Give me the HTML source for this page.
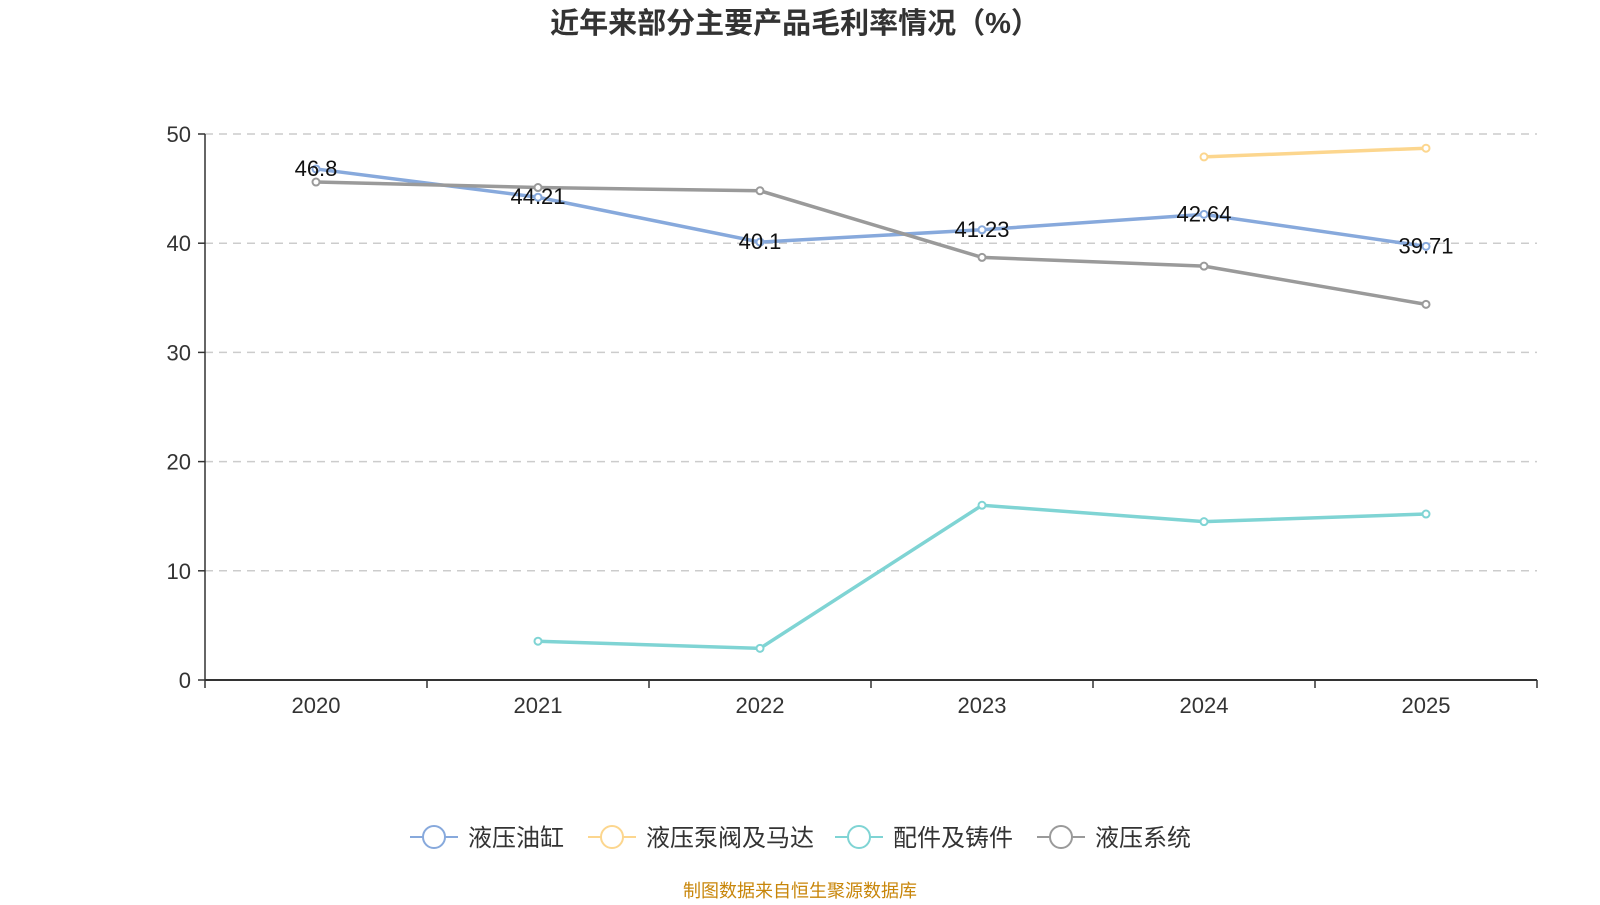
<!DOCTYPE html>
<html><head><meta charset="utf-8"><style>
body{margin:0;background:#fff;font-family:"Liberation Sans","Noto Sans CJK SC",sans-serif;}
svg text{font-family:"Liberation Sans","Noto Sans CJK SC",sans-serif;}
</style></head><body>
<svg id="c" width="1600" height="900" xmlns="http://www.w3.org/2000/svg">
<text x="795" y="33" text-anchor="middle" font-size="29" font-weight="bold" fill="#333">近年来部分主要产品毛利率情况（%）</text>
<g id="grid"></g><g id="axes"></g><g id="series"></g><g id="labels"></g><g id="legend"></g>
<text x="800" y="897" text-anchor="middle" font-size="18" fill="#c8860a">制图数据来自恒生聚源数据库</text>
</svg>
<script>
const categories=["2020","2021","2022","2023","2024","2025"];
const yTicks=[0,10,20,30,40,50];
const seriesNames=["液压油缸","液压泵阀及马达","配件及铸件","液压系统"];
const seriesColors=["#87a9dc","#fcd68e","#7fd4d4","#9a9a9a"];
const cylinder=[46.8,44.21,40.1,41.23,42.64,39.71];
const pumpValve=[null,null,null,null,47.9,48.7];
const parts=[null,3.55,2.9,16.0,14.5,15.2];
const system=[45.6,45.1,44.8,38.7,37.9,34.4];
const cylinderLabels=["46.8","44.21","40.1","41.23","42.64","39.71"];
const NS="http://www.w3.org/2000/svg";
const L=205,R=1537,T=134,B=680;
const bw=(R-L)/categories.length;
const xs=i=>L+bw*(i+0.5);
const ys=v=>B-(v/50)*(B-T);
function mk(t,a,p){const e=document.createElementNS(NS,t);for(const k in a)e.setAttribute(k,a[k]);p.appendChild(e);return e;}
const grid=document.getElementById('grid'),axes=document.getElementById('axes');
yTicks.forEach(v=>{
 if(v>0){const g=mk('line',{x1:L,x2:R,y1:ys(v),y2:ys(v),stroke:'#ccc','stroke-dasharray':'8,6','stroke-width':1.5},grid);
 
 }
 const tk=mk('line',{x1:L-7,x2:L,y1:ys(v),y2:ys(v),stroke:'#333','stroke-width':1.5},axes);
 
 
 const t=mk('text',{x:L-14,y:ys(v)+8,'text-anchor':'end','font-size':22,fill:'#333'},axes);t.textContent=v;
 
 
});
const ya=mk('line',{x1:L,x2:L,y1:T,y2:B,stroke:'#333','stroke-width':1.5},axes);


const xa=mk('line',{x1:L,x2:R,y1:B,y2:B,stroke:'#333','stroke-width':2},axes);


for(let i=0;i<=categories.length;i++){const tk=mk('line',{x1:L+bw*i,x2:L+bw*i,y1:B,y2:B+8,stroke:'#333','stroke-width':1.5},axes);
 
 }
categories.forEach((c,i)=>{const t=mk('text',{x:xs(i),y:B+33,'text-anchor':'middle','font-size':22,fill:'#333'},axes);t.textContent=c;
 
 });
const sg=document.getElementById('series');
[cylinder,pumpValve,parts,system].forEach((d,si)=>{
 const g=mk('g',{},sg);
 
 
 let pts=[];d.forEach((v,i)=>{if(v!==null)pts.push(xs(i)+','+ys(v));});
 const pl=mk('polyline',{points:pts.join(' '),fill:'none',stroke:seriesColors[si],'stroke-width':3.5},g);
 
 
 d.forEach((v,i)=>{if(v===null)return;const c=mk('circle',{cx:xs(i),cy:ys(v),r:3.5,fill:'#fff',stroke:seriesColors[si],'stroke-width':2},g);
  
  });
});
const lg=document.getElementById('labels');
cylinder.forEach((v,i)=>{const t=mk('text',{x:xs(i),y:ys(v)+7,'text-anchor':'middle','font-size':22,fill:'#111'},lg);t.textContent=cylinderLabels[i];
 
 });
const leg=document.getElementById('legend');
const lx=[410,588,835,1037];
seriesNames.forEach((n,i)=>{const g=mk('g',{},leg);
 
 
 mk('line',{x1:lx[i],x2:lx[i]+48,y1:837,y2:837,stroke:seriesColors[i],'stroke-width':2},g);
 mk('circle',{cx:lx[i]+24,cy:837,r:11,fill:'#fff',stroke:seriesColors[i],'stroke-width':2},g);
 const t=mk('text',{x:lx[i]+58,y:846,'font-size':24,fill:'#333'},g);t.textContent=n;});
</script>
</body></html>
